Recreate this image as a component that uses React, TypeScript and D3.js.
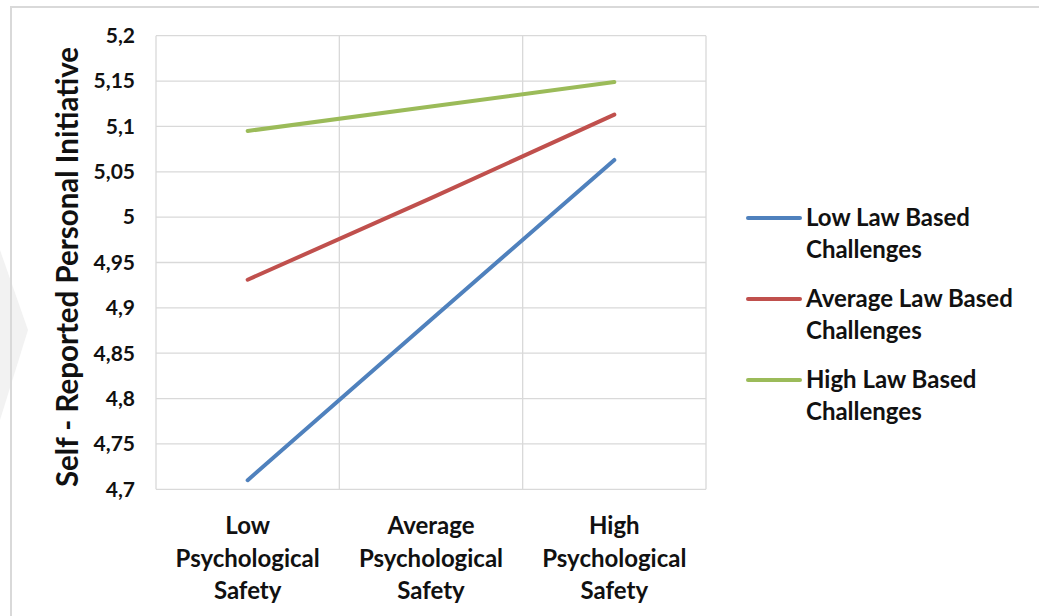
import React from "react";
import * as d3 from "d3";

const categories = [
  ["Low", "Psychological", "Safety"],
  ["Average", "Psychological", "Safety"],
  ["High", "Psychological", "Safety"],
];
const seriesNames = [
  ["Low Law Based", "Challenges"],
  ["Average Law Based", "Challenges"],
  ["High Law Based", "Challenges"],
];
const lowLaw = [4.71, 4.887, 5.063];
const avgLaw = [4.931, 5.021, 5.113];
const highLaw = [5.095, 5.122, 5.149];
const yTicks = [4.7, 4.75, 4.8, 4.85, 4.9, 4.95, 5, 5.05, 5.1, 5.15, 5.2];
const colors = ["#4F81BD", "#C0504D", "#9BBB59"];

const W = 1039;
const H = 616;
const plot = { left: 156, right: 706, top: 35.7, bottom: 489.3 };
const font = "Lato, 'Open Sans', sans-serif";

export default function App() {
  const series = [lowLaw, avgLaw, highLaw];
  const x = d3
    .scaleBand<number>()
    .domain([0, 1, 2])
    .range([plot.left, plot.right]);
  const y = d3.scaleLinear().domain([4.7, 5.2]).range([plot.bottom, plot.top]);
  const line = d3
    .line<number>()
    .x((_, i) => (x(i) as number) + x.bandwidth() / 2)
    .y((d) => y(d));
  const fmt = (v: number) => String(+v.toFixed(2)).replace(".", ",");

  return (
    <svg
      width={W}
      height={H}
      style={{ position: "absolute", left: 0, top: 0, background: "#fff" }}
      fontFamily={font}
    >
      <polygon points="0,250 28,330 0,420" fill="#f2f2f2" />
      <rect
        x={11}
        y={7}
        width={W + 20}
        height={H + 20}
        fill="none"
        stroke="#d9d9d9"
        strokeWidth={2}
      />
      {yTicks.map((t) => (
        <line
          key={"h" + t}
          x1={plot.left}
          x2={plot.right}
          y1={y(t)}
          y2={y(t)}
          stroke="#d9d9d9"
          strokeWidth={1.3}
        />
      ))}
      {[0, 1, 2, 3].map((i) => {
        const xv = i < 3 ? (x(i) as number) : plot.right;
        return (
          <line
            key={"v" + i}
            x1={xv}
            x2={xv}
            y1={plot.top}
            y2={plot.bottom}
            stroke="#d9d9d9"
            strokeWidth={1.3}
          />
        );
      })}
      {yTicks.map((t) => (
        <text
          key={"t" + t}
          x={135}
          y={y(t)}
          dy="0.35em"
          textAnchor="end"
          fontSize={21}
          fontWeight={700}
          fill="#111"
        >
          {fmt(t)}
        </text>
      ))}
      <text
        transform={`translate(78,${267}) rotate(-90)`}
        textAnchor="middle"
        fontSize={29.5}
        fontWeight={700}
        fill="#111"
      >
        Self - Reported Personal Initiative
      </text>
      {categories.map((lines, i) => (
        <text
          key={"c" + i}
          textAnchor="middle"
          fontSize={24}
          fontWeight={700}
          fill="#111"
        >
          {lines.map((l, j) => (
            <tspan
              key={j}
              x={(x(i) as number) + x.bandwidth() / 2}
              y={534 + j * 32.5}
            >
              {l}
            </tspan>
          ))}
        </text>
      ))}
      {series.map((s, k) => (
        <path
          key={"s" + k}
          d={line(s) || ""}
          fill="none"
          stroke={colors[k]}
          strokeWidth={4}
          strokeLinecap="round"
        />
      ))}
      {seriesNames.map((n, k) => {
        const cy = 218 + k * 81;
        return (
          <g key={"l" + k}>
            <line
              x1={748}
              x2={800}
              y1={cy}
              y2={cy}
              stroke={colors[k]}
              strokeWidth={4}
              strokeLinecap="round"
            />
            <text fontSize={24} fontWeight={700} fill="#111">
              {n.map((l, j) => (
                <tspan key={j} x={806} y={cy + 8 + j * 32}>
                  {l}
                </tspan>
              ))}
            </text>
          </g>
        );
      })}
    </svg>
  );
}
